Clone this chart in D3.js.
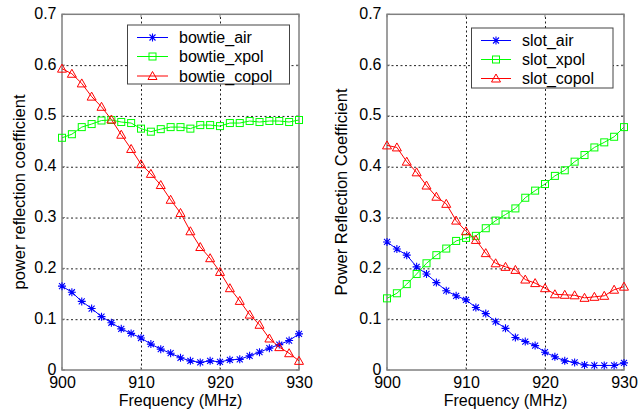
<!DOCTYPE html>
<html>
<head>
<meta charset="utf-8">
<title>Power reflection coefficient</title>
<script src="https://cdn.jsdelivr.net/npm/d3@7"></script>
<style>
  body { margin: 0; background: #fff; }
  text { font-family: "Liberation Sans", Arial, sans-serif; fill: #000; }
</style>
</head>
<body>
<svg id="chart"></svg>
<script>

// frequency points (MHz)
let freq = [900, 901.25, 902.5, 903.75, 905, 906.25, 907.5, 908.75, 910, 911.25, 912.5, 913.75,
            915, 916.25, 917.5, 918.75, 920, 921.25, 922.5, 923.75, 925, 926.25, 927.5, 928.75, 930];

// left panel
let bowtieAir = [0.165, 0.153, 0.135, 0.121, 0.105, 0.093, 0.081, 0.072, 0.063, 0.051, 0.041, 0.033,
                 0.024, 0.018, 0.015, 0.018, 0.016, 0.020, 0.021, 0.028, 0.035, 0.043, 0.050, 0.058, 0.071];
let bowtieXpol = [0.457, 0.464, 0.478, 0.484, 0.491, 0.492, 0.488, 0.486, 0.475, 0.469, 0.474, 0.478,
                  0.478, 0.475, 0.482, 0.482, 0.480, 0.486, 0.486, 0.490, 0.488, 0.490, 0.490, 0.488, 0.492];
let bowtieCopol = [0.593, 0.583, 0.564, 0.538, 0.518, 0.493, 0.463, 0.435, 0.405, 0.386, 0.364, 0.335,
                   0.309, 0.273, 0.242, 0.220, 0.193, 0.161, 0.136, 0.109, 0.089, 0.062, 0.045, 0.033, 0.018];

// right panel
let slotAir = [0.252, 0.238, 0.226, 0.203, 0.189, 0.172, 0.156, 0.146, 0.138, 0.123, 0.111, 0.095,
               0.082, 0.064, 0.056, 0.048, 0.035, 0.026, 0.018, 0.015, 0.010, 0.009, 0.009, 0.009, 0.014];
let slotXpol = [0.141, 0.151, 0.169, 0.189, 0.210, 0.226, 0.239, 0.254, 0.260, 0.264, 0.279, 0.294,
                0.306, 0.318, 0.339, 0.353, 0.366, 0.382, 0.393, 0.410, 0.423, 0.438, 0.448, 0.459, 0.478];
let slotCopol = [0.442, 0.438, 0.410, 0.389, 0.363, 0.341, 0.327, 0.294, 0.273, 0.256, 0.230, 0.210,
                 0.203, 0.197, 0.178, 0.171, 0.161, 0.149, 0.148, 0.147, 0.142, 0.144, 0.146, 0.158, 0.164];

let xTicks = [900, 910, 920, 930];
let yTicks = [0, 0.1, 0.2, 0.3, 0.4, 0.5, 0.6, 0.7];

let panels = [
  {
    left: 62, right: 299, ylabel: 'power reflection coefficient', ylabelX: 25,
    legend: {x: 127.5, y: 25, w: 162, h: 59, rows: [37.5, 56.5, 76], line: [137, 168], text: 179},
    series: [
      {name: 'bowtie_air', values: bowtieAir, color: '#0000ff', marker: 'star'},
      {name: 'bowtie_xpol', values: bowtieXpol, color: '#00ff00', marker: 'square'},
      {name: 'bowtie_copol', values: bowtieCopol, color: '#ff0000', marker: 'triangle'}
    ]
  },
  {
    left: 387, right: 624, ylabel: 'Power Reflection Coefficient', ylabelX: 347,
    legend: {x: 471.5, y: 28, w: 141.5, h: 60, rows: [40.5, 59.5, 78.5], line: [481, 511], text: 522},
    series: [
      {name: 'slot_air', values: slotAir, color: '#0000ff', marker: 'star'},
      {name: 'slot_xpol', values: slotXpol, color: '#00ff00', marker: 'square'},
      {name: 'slot_copol', values: slotCopol, color: '#ff0000', marker: 'triangle'}
    ]
  }
];

let config = {top: 14.3, bottom: 370, width: 644, height: 412};

let svg = d3.select('#chart')
  .attr('width', config.width)
  .attr('height', config.height);

svg.append('rect').attr('width', config.width).attr('height', config.height).attr('fill', '#fff');

// marker shapes drawn at (0,0)
function drawMarker(g, type, color) {
  if (type == 'star') {
    let r = 4;
    let d = 'M' + (-r) + ',0L' + r + ',0M0,' + (-r) + 'L0,' + r +
            'M-3,-3L3,3M-3,3L3,-3';
    g.append('path').attr('d', d).attr('stroke', color).attr('stroke-width', 1.1).attr('fill', 'none');
  } else if (type == 'square') {
    g.append('rect').attr('x', -3.5).attr('y', -3.5).attr('width', 7).attr('height', 7)
      .attr('fill', 'none').attr('stroke', color).attr('stroke-width', 1);
  } else {
    g.append('path').attr('d', 'M0,-4.5L4.5,3.5L-4.5,3.5Z')
      .attr('fill', 'none').attr('stroke', color).attr('stroke-width', 1);
  }
}

panels.forEach(function(p) {
  let x = d3.scaleLinear().domain([900, 930]).range([p.left, p.right]);
  let y = d3.scaleLinear().domain([0, 0.7]).range([config.bottom, config.top]);
  let plotH = config.bottom - config.top;
  let plotW = p.right - p.left;

  let g = svg.append('g');

  // grid (dotted)
  let gx = g.append('g')
    .attr('transform', translate(0, config.bottom))
    .call(d3.axisBottom(x).tickValues(xTicks.slice(1, -1)).tickSize(-plotH).tickFormat(''));
  let gy = g.append('g')
    .attr('transform', translate(p.left, 0))
    .call(d3.axisLeft(y).tickValues(yTicks.slice(1, -1)).tickSize(-plotW).tickFormat(''));
  [gx, gy].forEach(function(a) {
    a.select('.domain').remove();
    a.selectAll('line').attr('stroke', '#222').attr('stroke-dasharray', '2,2.5');
  });

  // tick labels
  let lx = g.append('g')
    .attr('transform', translate(0, config.bottom))
    .call(d3.axisBottom(x).tickValues(xTicks).tickSize(0).tickPadding(6.5).tickFormat(d3.format('d')));
  let ly = g.append('g')
    .attr('transform', translate(p.left, 0))
    .call(d3.axisLeft(y).tickValues(yTicks).tickSize(0).tickPadding(5.5)
      .tickFormat(d => d == 0 ? '0' : d.toFixed(1)));
  [lx, ly].forEach(function(a) {
    a.select('.domain').remove();
    a.selectAll('text').style('font-size', '16px').style('font-family', '"Liberation Sans", Arial, sans-serif').attr('fill', '#000');
  });
  ly.selectAll('text').attr('dy', '0.25em');

  // small inside ticks on all four sides
  let ticks = g.append('g').attr('stroke', '#808080').attr('stroke-width', 1);
  xTicks.forEach(function(t) {
    ticks.append('line').attr('x1', x(t)).attr('x2', x(t)).attr('y1', config.bottom).attr('y2', config.bottom - 3);
    ticks.append('line').attr('x1', x(t)).attr('x2', x(t)).attr('y1', config.top).attr('y2', config.top + 3);
  });
  yTicks.forEach(function(t) {
    ticks.append('line').attr('x1', p.left).attr('x2', p.left + 3).attr('y1', y(t)).attr('y2', y(t));
    ticks.append('line').attr('x1', p.right).attr('x2', p.right - 3).attr('y1', y(t)).attr('y2', y(t));
  });

  // frame
  g.append('rect')
    .attr('x', p.left).attr('y', config.top)
    .attr('width', plotW).attr('height', plotH)
    .attr('fill', 'none').attr('stroke', '#808080').attr('stroke-width', 1.5);

  // series
  let line = d3.line().x((d, i) => x(freq[i])).y(d => y(d));
  p.series.forEach(function(s) {
    g.append('path')
      .datum(s.values)
      .attr('d', line)
      .attr('fill', 'none')
      .attr('stroke', s.color)
      .attr('stroke-width', 1);
    s.values.forEach(function(v, i) {
      let m = g.append('g').attr('transform', translate(x(freq[i]), y(v)));
      drawMarker(m, s.marker, s.color);
    });
  });

  // legend
  let L = p.legend;
  g.append('rect')
    .attr('x', L.x).attr('y', L.y).attr('width', L.w).attr('height', L.h)
    .attr('fill', '#fff').attr('stroke', '#444').attr('stroke-width', 1);
  p.series.forEach(function(s, i) {
    let ry = L.rows[i];
    g.append('line')
      .attr('x1', L.line[0]).attr('x2', L.line[1]).attr('y1', ry).attr('y2', ry)
      .attr('stroke', s.color).attr('stroke-width', 1);
    let m = g.append('g').attr('transform', translate((L.line[0] + L.line[1]) / 2, ry));
    drawMarker(m, s.marker, s.color);
    g.append('text')
      .attr('x', L.text).attr('y', ry + 5.5)
      .style('font-size', '16px')
      .text(s.name);
  });

  // axis labels
  g.append('text')
    .attr('x', (p.left + p.right) / 2).attr('y', 406)
    .attr('text-anchor', 'middle')
    .style('font-size', '16px')
    .text('Frequency (MHz)');
  g.append('text')
    .attr('transform', translate(p.ylabelX, 192) + ' rotate(-90)')
    .attr('text-anchor', 'middle')
    .style('font-size', '16.5px')
    .text(p.ylabel);
});

// helper method to make translating easier
function translate(x, y) {
  return 'translate(' + x + ',' + y + ')';
}

</script>
</body>
</html>
